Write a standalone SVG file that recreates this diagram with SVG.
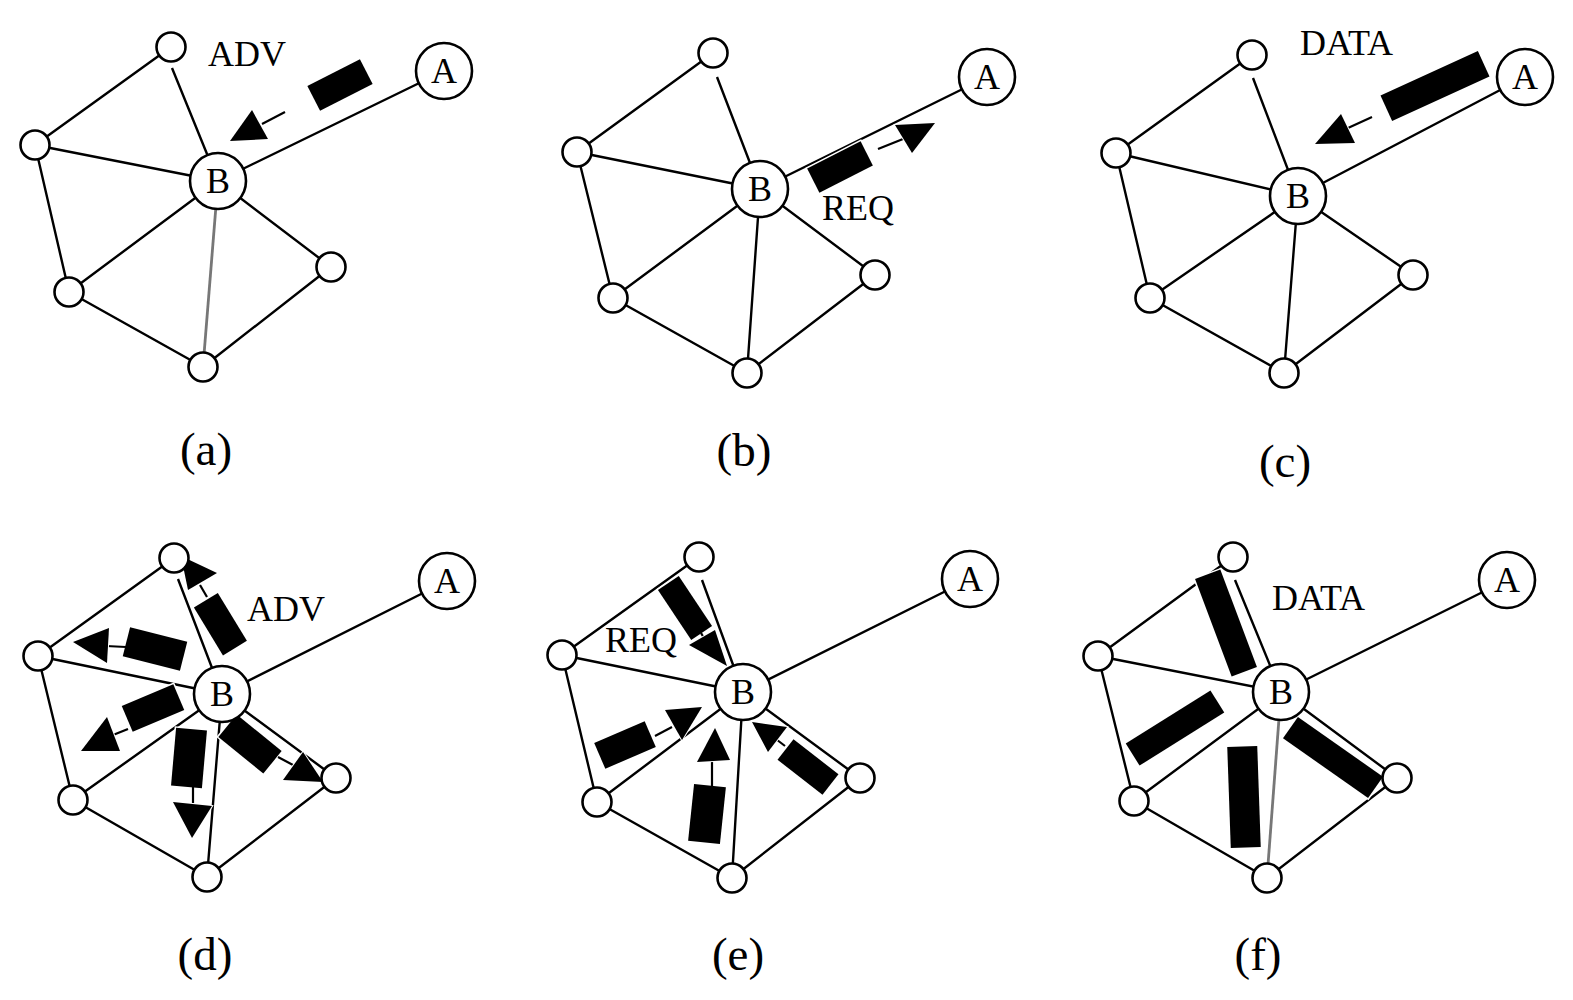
<svg xmlns="http://www.w3.org/2000/svg" width="1573" height="1000" viewBox="0 0 1573 1000">
<style>
.e{stroke:#000;stroke-width:2.4;fill:none}
.g{stroke:#777;stroke-width:2.8;fill:none}
.n{fill:#fff;stroke:#000;stroke-width:2.6}
.lbl{font-family:"Liberation Serif",serif;font-size:36px;text-anchor:middle}
.msg{font-family:"Liberation Serif",serif;font-size:36px}
.cap{font-family:"Liberation Serif",serif;font-size:47px;text-anchor:middle}
.pk{fill:#000;stroke:#fff;stroke-width:3;paint-order:stroke}
.hd{fill:#000;stroke:#fff;stroke-width:2;paint-order:stroke}
.tl{stroke:#000;stroke-width:2.2;fill:none}
</style>
<rect width="1573" height="1000" fill="#fff"/>
<g id="connectors">
<!-- panel a -->
<path class="e" d="M171 47L35 145M172 68L218 181M35 145L218 181M35 145L69 292M69 292L218 181M69 292L203 367M203 367L331 267M331 267L218 181M218 181L444 71"/>
<path class="g" d="M218 181L203 367"/>
<!-- panel b -->
<path class="e" d="M713 53L577 152M717 77L760 189M577 152L760 189M577 152L613 298M613 298L760 189M613 298L747 373M747 373L760 189M747 373L875 275M875 275L760 189M760 189L987 77"/>
<!-- panel c -->
<path class="e" d="M1252 55L1116 153M1253 78L1298 196M1116 153L1298 196M1116 153L1150 298M1150 298L1298 196M1150 298L1284 373M1284 373L1298 196M1284 373L1413 275M1413 275L1298 196M1298 196L1525 77"/>
<!-- panel d -->
<path class="e" d="M174 558L38 656M178 579L222 694M38 656L222 694M38 656L73 800M73 800L222 694M73 800L207 877M207 877L222 694M207 877L336 778M336 778L222 694M222 694L447 581"/>
<!-- panel e -->
<path class="e" d="M699 557L562 655M702 580L743 692M562 655L743 692M562 655L597 802M597 802L743 692M597 802L732 878M732 878L743 692M732 878L860 778M860 778L743 692M743 692L970 579"/>
<!-- panel f -->
<path class="e" d="M1233 557L1098 656M1235 580L1281 692M1098 656L1281 692M1098 656L1134 801M1134 801L1281 692M1134 801L1267 878M1267 878L1397 778M1397 778L1281 692M1281 692L1507 580"/>
<path class="g" d="M1281 692L1267 878"/>
</g>
<g id="messages">
<!-- a: ADV from A to B -->
<rect class="pk" x="-29.5" y="-14" width="59" height="28" transform="translate(340 85) rotate(-27)"/>
<line class="tl" x1="285" y1="112" x2="262" y2="124"/>
<polygon class="hd" points="230,141 252,110 268,139"/>
<text class="msg" x="208" y="66">ADV</text>
<!-- b: REQ from B to A -->
<rect class="pk" x="-30" y="-13.5" width="60" height="27" transform="translate(840 167) rotate(-27)"/>
<line class="tl" x1="878" y1="149" x2="903" y2="139"/>
<polygon class="hd" points="935,123 895,125 912,153"/>
<text class="msg" x="822" y="220">REQ</text>
<!-- c: DATA from A to B -->
<rect class="pk" x="-53.5" y="-14" width="107" height="28" transform="translate(1435 86) rotate(-24.5)"/>
<line class="tl" x1="1372" y1="117" x2="1348" y2="128"/>
<polygon class="hd" points="1315,144 1341,114 1355,143"/>
<text class="msg" x="1300" y="55">DATA</text>
<!-- d: ADV broadcast from B -->
<rect class="pk" x="-28" y="-14" width="56" height="28" transform="translate(220.4 624.2) rotate(58.7)"/>
<line class="tl" x1="207" y1="597" x2="200" y2="585"/>
<polygon class="hd" points="181,556 217,573 188,590"/>
<rect class="pk" x="-29.5" y="-15" width="59" height="30" transform="translate(155 649) rotate(14.2)"/>
<line class="tl" x1="126" y1="647" x2="106" y2="646"/>
<polygon class="hd" points="73,642 109,628 107,663"/>
<rect class="pk" x="-28" y="-14" width="56" height="28" transform="translate(153 708) rotate(-23)"/>
<line class="tl" x1="128" y1="729" x2="113" y2="735"/>
<polygon class="hd" points="107,717 81,751 120,751"/>
<rect class="pk" x="-15.5" y="-29" width="31" height="58" transform="translate(189 758) rotate(5)"/>
<line class="tl" x1="193" y1="786" x2="193" y2="803"/>
<polygon class="hd" points="173,802 212,806 192,838"/>
<rect class="pk" x="-29" y="-14.5" width="58" height="29" transform="translate(250 744) rotate(39.2)"/>
<line class="tl" x1="278" y1="757" x2="293" y2="765"/>
<polygon class="hd" points="283,780 303,752 323,782"/>
<text class="msg" x="247" y="621">ADV</text>
<!-- e: REQ from neighbours to B -->
<rect class="pk" x="-30" y="-12.5" width="60" height="25" transform="translate(685 608) rotate(56.3)"/>
<line class="tl" x1="701" y1="633" x2="708" y2="645"/>
<polygon class="hd" points="689,645 715,630 727,666"/>
<rect class="pk" x="-27.5" y="-14" width="55" height="28" transform="translate(625 745) rotate(-23.4)"/>
<line class="tl" x1="655" y1="736" x2="672" y2="727"/>
<polygon class="hd" points="665,710 702,707 682,740"/>
<rect class="pk" x="-16" y="-28.5" width="32" height="57" transform="translate(707 814) rotate(6)"/>
<line class="tl" x1="712" y1="787" x2="712" y2="760"/>
<polygon class="hd" points="697,762 715,728 730,760"/>
<rect class="pk" x="-28.5" y="-13" width="57" height="26" transform="translate(808 767) rotate(37.9)"/>
<line class="tl" x1="785" y1="746" x2="772" y2="736"/>
<polygon class="hd" points="752,722 787,727 768,752"/>
<text class="msg" x="605" y="652">REQ</text>
<!-- f: DATA from B to neighbours -->
<rect class="pk" x="-52" y="-13.5" width="104" height="27" transform="translate(1226 623) rotate(69.4)"/>
<rect class="pk" x="-50" y="-13" width="100" height="26" transform="translate(1175 728) rotate(-32.1)"/>
<rect class="pk" x="-15" y="-50.5" width="30" height="101" transform="translate(1244 797) rotate(-2)"/>
<rect class="pk" x="-52" y="-13" width="104" height="26" transform="translate(1333 757.5) rotate(35.1)"/>
<text class="msg" x="1272" y="610">DATA</text>
</g>
<!-- nodes panel a -->
<g id="a-n1"><circle class="n" cx="171" cy="47" r="14.5"/></g>
<g id="a-n2"><circle class="n" cx="35" cy="145" r="14.5"/></g>
<g id="a-n3"><circle class="n" cx="69" cy="292" r="14.5"/></g>
<g id="a-n4"><circle class="n" cx="203" cy="367" r="14.5"/></g>
<g id="a-n5"><circle class="n" cx="331" cy="267" r="14.5"/></g>
<g id="a-B"><circle class="n" cx="218" cy="181" r="28"/><text class="lbl" x="218" y="193">B</text></g>
<g id="a-A"><circle class="n" cx="444" cy="71" r="28"/><text class="lbl" x="444" y="83">A</text></g>
<!-- nodes panel b -->
<g id="b-n1"><circle class="n" cx="713" cy="53" r="14.5"/></g>
<g id="b-n2"><circle class="n" cx="577" cy="152" r="14.5"/></g>
<g id="b-n3"><circle class="n" cx="613" cy="298" r="14.5"/></g>
<g id="b-n4"><circle class="n" cx="747" cy="373" r="14.5"/></g>
<g id="b-n5"><circle class="n" cx="875" cy="275" r="14.5"/></g>
<g id="b-B"><circle class="n" cx="760" cy="189" r="28"/><text class="lbl" x="760" y="201">B</text></g>
<g id="b-A"><circle class="n" cx="987" cy="77" r="28"/><text class="lbl" x="987" y="89">A</text></g>
<!-- nodes panel c -->
<g id="c-n1"><circle class="n" cx="1252" cy="55" r="14.5"/></g>
<g id="c-n2"><circle class="n" cx="1116" cy="153" r="14.5"/></g>
<g id="c-n3"><circle class="n" cx="1150" cy="298" r="14.5"/></g>
<g id="c-n4"><circle class="n" cx="1284" cy="373" r="14.5"/></g>
<g id="c-n5"><circle class="n" cx="1413" cy="275" r="14.5"/></g>
<g id="c-B"><circle class="n" cx="1298" cy="196" r="28"/><text class="lbl" x="1298" y="208">B</text></g>
<g id="c-A"><circle class="n" cx="1525" cy="77" r="28"/><text class="lbl" x="1525" y="89">A</text></g>
<!-- nodes panel d -->
<g id="d-n1"><circle class="n" cx="174" cy="558" r="14.5"/></g>
<g id="d-n2"><circle class="n" cx="38" cy="656" r="14.5"/></g>
<g id="d-n3"><circle class="n" cx="73" cy="800" r="14.5"/></g>
<g id="d-n4"><circle class="n" cx="207" cy="877" r="14.5"/></g>
<g id="d-n5"><circle class="n" cx="336" cy="778" r="14.5"/></g>
<g id="d-B"><circle class="n" cx="222" cy="694" r="28"/><text class="lbl" x="222" y="706">B</text></g>
<g id="d-A"><circle class="n" cx="447" cy="581" r="28"/><text class="lbl" x="447" y="593">A</text></g>
<!-- nodes panel e -->
<g id="e-n1"><circle class="n" cx="699" cy="557" r="14.5"/></g>
<g id="e-n2"><circle class="n" cx="562" cy="655" r="14.5"/></g>
<g id="e-n3"><circle class="n" cx="597" cy="802" r="14.5"/></g>
<g id="e-n4"><circle class="n" cx="732" cy="878" r="14.5"/></g>
<g id="e-n5"><circle class="n" cx="860" cy="778" r="14.5"/></g>
<g id="e-B"><circle class="n" cx="743" cy="692" r="28"/><text class="lbl" x="743" y="704">B</text></g>
<g id="e-A"><circle class="n" cx="970" cy="579" r="28"/><text class="lbl" x="970" y="591">A</text></g>
<!-- nodes panel f -->
<g id="f-n1"><circle class="n" cx="1233" cy="557" r="14.5"/></g>
<g id="f-n2"><circle class="n" cx="1098" cy="656" r="14.5"/></g>
<g id="f-n3"><circle class="n" cx="1134" cy="801" r="14.5"/></g>
<g id="f-n4"><circle class="n" cx="1267" cy="878" r="14.5"/></g>
<g id="f-n5"><circle class="n" cx="1397" cy="778" r="14.5"/></g>
<g id="f-B"><circle class="n" cx="1281" cy="692" r="28"/><text class="lbl" x="1281" y="704">B</text></g>
<g id="f-A"><circle class="n" cx="1507" cy="580" r="28"/><text class="lbl" x="1507" y="592">A</text></g>
<g id="captions">
<text class="cap" x="206" y="465">(a)</text>
<text class="cap" x="744" y="466">(b)</text>
<text class="cap" x="1285" y="477">(c)</text>
<text class="cap" x="205" y="970">(d)</text>
<text class="cap" x="738" y="970">(e)</text>
<text class="cap" x="1258" y="970">(f)</text>
</g>
</svg>
